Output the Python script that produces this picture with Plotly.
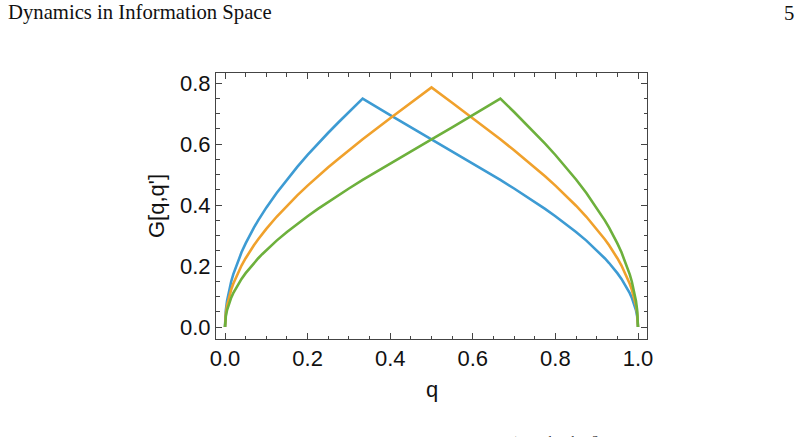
import plotly.graph_objects as go

# sample points of q
q = [0, 0.001, 0.002, 0.005, 0.01, 0.015, 0.02, 0.03, 0.04, 0.05, 0.06, 0.07, 0.08, 0.09,
     0.1, 0.125, 0.15, 0.175, 0.2, 0.225, 0.25, 0.275, 0.3, 0.3333, 0.4, 0.45, 0.5, 0.55,
     0.6, 0.6667, 0.7, 0.725, 0.75, 0.775, 0.8, 0.825, 0.85, 0.875, 0.9, 0.91, 0.92, 0.93,
     0.94, 0.95, 0.96, 0.97, 0.98, 0.985, 0.99, 0.995, 0.998, 0.999, 1.0]

# G[q, q'] for q' = 1/3
g_third = [0, 0.0385, 0.0544, 0.0861, 0.1218, 0.1493, 0.1726, 0.2117, 0.2449, 0.2743,
           0.3010, 0.3257, 0.3488, 0.3706, 0.3914, 0.4395, 0.4837, 0.5250, 0.5640, 0.6011,
           0.6369, 0.6714, 0.7050, 0.7486, 0.6944, 0.6547, 0.6155, 0.5762, 0.5366, 0.4823,
           0.4542, 0.4326, 0.4103, 0.3873, 0.3633, 0.3382, 0.3117, 0.2832, 0.2521, 0.2388,
           0.2247, 0.2098, 0.1939, 0.1767, 0.1578, 0.1364, 0.1112, 0.0962, 0.0785, 0.0555,
           0.0351, 0.0248, 0]

# G[q, q'] for q' = 1/2
g_half = [0, 0.0316, 0.0447, 0.0708, 0.1002, 0.1228, 0.1419, 0.1741, 0.2014, 0.2255,
          0.2475, 0.2678, 0.2868, 0.3047, 0.3218, 0.3614, 0.3977, 0.4316, 0.4636, 0.4942,
          0.5236, 0.5520, 0.5796, 0.6155, 0.6847, 0.7353, 0.7854, 0.7353, 0.6847, 0.6155,
          0.5796, 0.5520, 0.5236, 0.4942, 0.4636, 0.4316, 0.3977, 0.3614, 0.3218, 0.3047,
          0.2868, 0.2678, 0.2475, 0.2255, 0.2014, 0.1741, 0.1419, 0.1228, 0.1002, 0.0708,
          0.0447, 0.0316, 0]

# G[q, q'] for q' = 2/3
g_twothirds = [0, 0.0248, 0.0351, 0.0555, 0.0785, 0.0962, 0.1112, 0.1364, 0.1578, 0.1767,
               0.1939, 0.2098, 0.2247, 0.2388, 0.2521, 0.2832, 0.3117, 0.3382, 0.3633, 0.3873,
               0.4103, 0.4326, 0.4542, 0.4823, 0.5366, 0.5762, 0.6155, 0.6547, 0.6944, 0.7486,
               0.7050, 0.6714, 0.6369, 0.6011, 0.5640, 0.5250, 0.4837, 0.4395, 0.3914, 0.3706,
               0.3488, 0.3257, 0.3010, 0.2743, 0.2449, 0.2117, 0.1726, 0.1493, 0.1218, 0.0861,
               0.0544, 0.0385, 0]

x_ticks = [0.0, 0.2, 0.4, 0.6, 0.8, 1.0]
y_ticks = [0.0, 0.2, 0.4, 0.6, 0.8]

colors = ["#3D9BD3", "#F0A12C", "#6DB03C"]

W, H = 801, 437
L, R, T, B = 216, 647, 73, 339

fig = go.Figure()
for ys, c in zip([g_third, g_half, g_twothirds], colors):
    fig.add_trace(go.Scatter(x=q, y=ys, mode="lines",
                             line=dict(color=c, width=2.6), showlegend=False,
                             hoverinfo="skip"))

axis_common = dict(
    showgrid=False, zeroline=False, showline=True, linecolor="#444",
    linewidth=1, mirror="ticks", ticks="inside", ticklen=6, tickwidth=1,
    tickcolor="#444",
    tickfont=dict(family="Liberation Sans, Arial", size=22, color="#111"),
)

fig.update_xaxes(range=[-0.0218, 1.0218], tickvals=x_ticks,
                 ticktext=["%.1f" % v for v in x_ticks],
                 minor=dict(dtick=0.05, tick0=0, ticks="inside", ticklen=3.5,
                            tickcolor="#444", tickwidth=1),
                 **axis_common)
fig.update_yaxes(range=[-0.0393, 0.8328], tickvals=y_ticks,
                 ticktext=["%.1f" % v for v in y_ticks],
                 minor=dict(dtick=0.05, tick0=0, ticks="inside", ticklen=3.5,
                            tickcolor="#444", tickwidth=1),
                 **axis_common)


def px(xp):
    return (xp - L) / (R - L)


def py(yp):
    return (B - yp) / (B - T)


serif = "Liberation Serif, Times New Roman, serif"
sans = "Liberation Sans, Arial, sans-serif"
annotations = [
    dict(text="Dynamics in Information Space", x=px(6), y=py(13), xanchor="left",
         yanchor="middle", font=dict(family=serif, size=20.7, color="#111")),
    dict(text="5", x=px(796), y=py(13), xanchor="right", yanchor="middle",
         font=dict(family=serif, size=20.7, color="#111")),
    dict(text="q", x=px(432), y=py(389), xanchor="center", yanchor="middle",
         font=dict(family=sans, size=22, color="#111")),
    dict(text="G[q,q']", x=px(156), y=py(206), xanchor="center", yanchor="middle",
         textangle=-90, font=dict(family=sans, size=22, color="#111")),
    dict(text="t         1     1     2 ;", x=px(512), y=py(430), xanchor="left",
         yanchor="top", font=dict(family=serif, size=13, color="#111")),
]
for a in annotations:
    a.update(xref="paper", yref="paper", showarrow=False)

fig.update_layout(
    width=W, height=H,
    margin=dict(l=L, r=W - R, t=T, b=H - B, pad=0),
    paper_bgcolor="white", plot_bgcolor="white",
    annotations=annotations,
)

fig.write_html("out.html")
